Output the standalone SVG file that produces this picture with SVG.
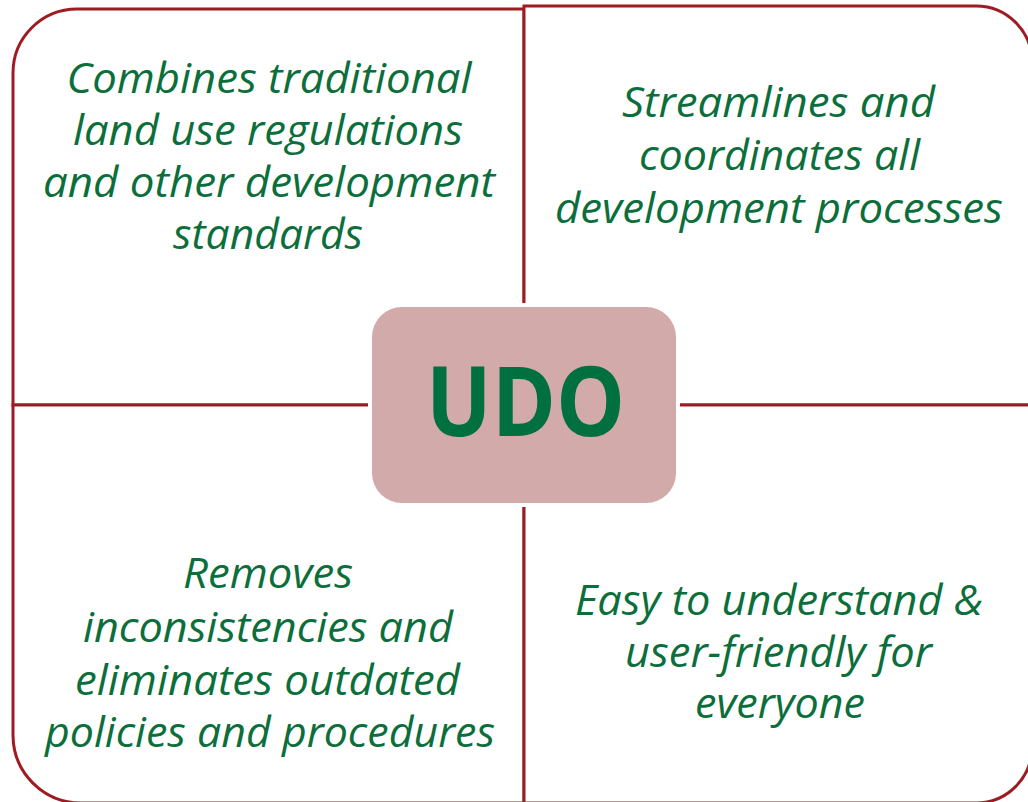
<svg xmlns="http://www.w3.org/2000/svg" width="1028" height="802" viewBox="0 0 1028 802">
<style>
.q{fill:#fff;stroke:#9E1B22;stroke-width:3}
.t{font-family:"Open Sans","Liberation Sans",sans-serif;font-style:italic;font-size:42px;fill:#0B6E3B;text-anchor:middle}
.c{font-family:"Open Sans","Liberation Sans",sans-serif;font-weight:bold;font-size:97px;fill:#007040;text-anchor:middle}
</style>
<rect width="1028" height="802" fill="#fff"/>
<g id="q-tl">
<path class="q" d="M524,405 V9 H77 A64,64 0 0 0 13,73 V405 Z"/>
<text class="t"><tspan x="269" y="93" textLength="405" lengthAdjust="spacingAndGlyphs">Combines traditional</tspan><tspan x="268" y="145" textLength="390" lengthAdjust="spacingAndGlyphs">land use regulations</tspan><tspan x="269" y="197" textLength="452" lengthAdjust="spacingAndGlyphs">and other development</tspan><tspan x="268" y="249" textLength="190" lengthAdjust="spacingAndGlyphs">standards</tspan></text>
</g>
<g id="q-tr">
<path class="q" d="M524,405 V6 H976 A56,56 0 0 1 1032,62 V405 Z"/>
<text class="t"><tspan x="778.5" y="117" textLength="313" lengthAdjust="spacingAndGlyphs">Streamlines and</tspan><tspan x="779.5" y="170" textLength="281" lengthAdjust="spacingAndGlyphs">coordinates all</tspan><tspan x="779" y="223" textLength="448" lengthAdjust="spacingAndGlyphs">development processes</tspan></text>
</g>
<g id="q-bl">
<path class="q" d="M524,405 V803 H81 A68,68 0 0 1 13,735 V405 Z"/>
<text class="t"><tspan x="268" y="588" textLength="170" lengthAdjust="spacingAndGlyphs">Removes</tspan><tspan x="268" y="642" textLength="370" lengthAdjust="spacingAndGlyphs">inconsistencies and</tspan><tspan x="267.5" y="695" textLength="385" lengthAdjust="spacingAndGlyphs">eliminates outdated</tspan><tspan x="270" y="747" textLength="450" lengthAdjust="spacingAndGlyphs">policies and procedures</tspan></text>
</g>
<g id="q-br">
<path class="q" d="M524,405 V803 H976 A56,56 0 0 0 1032,747 V405 Z"/>
<text class="t"><tspan x="779" y="615" textLength="408" lengthAdjust="spacingAndGlyphs">Easy to understand &amp;</tspan><tspan x="778.5" y="667" textLength="307" lengthAdjust="spacingAndGlyphs">user-friendly for</tspan><tspan x="780" y="718" textLength="170" lengthAdjust="spacingAndGlyphs">everyone</tspan></text>
</g>
<g id="udo">
<rect x="368" y="303" width="312" height="204" rx="34" fill="#fff"/>
<rect x="372" y="307" width="304" height="196" rx="30" fill="#D2AAAA"/>
<text class="c" x="525.5" y="436" textLength="199" lengthAdjust="spacingAndGlyphs">UDO</text>
</g>
</svg>
